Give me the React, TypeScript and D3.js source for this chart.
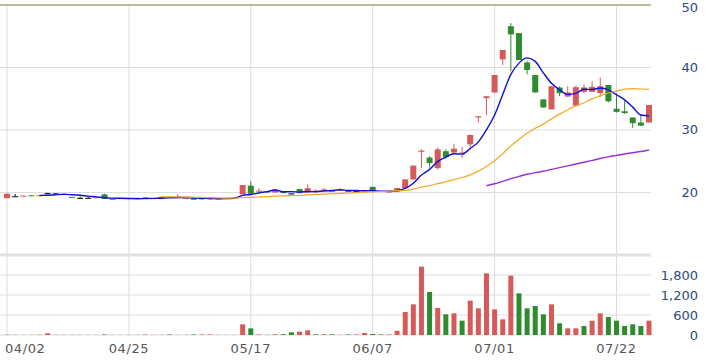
import React from "react";
import * as d3 from "d3";

const opens = [19.1,19.4,19.4,19.55,19.45,19.9,19.85,19.8,19.3,19.15,19.15,19.2,19.7,19.0,19.1,19.1,19.15,19.2,19.0,18.95,19.3,19.1,19.0,19.15,19.1,18.9,18.9,18.95,19.0,19.7,21.1,20.2,20.0,20.0,20.2,19.85,20.55,20.0,20.2,20.25,20.3,20.3,20.25,20.2,20.2,20.9,20.25,20.1,20.1,20.7,22.1,26.5,25.6,23.9,26.6,26.4,26.3,27.7,32.0,35.1,36.0,41.3,46.6,45.5,40.8,38.8,34.9,33.3,36.8,35.35,33.9,36.1,36.1,35.9,37.2,33.4,33.0,32.0,31.2,31.2];
const highs = [19.85,19.75,19.5,19.55,19.55,19.95,19.9,19.85,19.3,19.35,19.35,19.3,19.8,19.0,19.1,19.1,19.15,19.2,19.1,19.3,19.3,19.75,19.1,19.15,19.1,19.1,19.1,19.15,19.2,21.2,21.8,20.7,20.2,20.55,20.2,19.9,20.6,21.3,20.5,20.7,20.35,20.7,20.3,20.25,20.35,20.95,20.3,20.2,20.75,22.15,24.35,26.9,25.8,27.2,26.9,27.8,27.3,29.3,32.2,35.4,38.8,42.8,47.1,45.5,41.0,38.8,34.9,37.0,37.0,37.0,37.1,37.3,37.8,38.4,37.2,35.9,34.6,32.0,32.4,34.0];
const lows = [19.05,19.4,19.4,19.45,19.45,19.85,19.8,19.7,19.2,19.15,19.15,19.15,18.95,18.9,19.0,19.0,19.05,19.1,18.95,18.9,19.2,19.05,19.0,18.85,18.9,18.9,18.9,18.95,19.0,19.7,19.7,20.1,19.95,20.0,19.9,19.8,19.9,20.0,20.2,20.25,20.2,20.3,20.2,20.15,20.15,20.25,20.1,20.05,20.05,20.6,22.0,23.9,24.0,23.7,25.4,26.3,25.5,26.9,31.2,32.4,36.0,40.4,39.4,41.2,38.9,36.0,33.6,33.3,35.4,35.3,33.8,35.9,36.1,35.3,34.4,32.8,32.6,30.3,30.6,31.2];
const closes = [19.8,19.4,19.5,19.45,19.55,19.9,19.85,19.75,19.2,19.15,19.15,19.25,19.0,18.95,19.05,19.0,19.05,19.1,19.1,19.3,19.2,19.3,19.1,18.85,18.9,19.1,19.1,19.15,19.2,21.2,19.8,20.3,20.2,20.45,19.9,19.85,19.9,20.7,20.3,20.5,20.2,20.45,20.2,20.2,20.3,20.25,20.15,20.15,20.7,22.1,24.3,26.7,24.7,26.9,25.7,27.0,26.4,29.2,32.2,35.4,38.8,42.8,45.3,41.2,39.6,36.0,33.6,37.0,35.9,36.0,36.85,36.8,36.9,37.0,34.6,32.9,32.7,31.1,30.7,34.0];
const volumes = [10,5,5,5,8,50,5,5,5,5,5,5,15,5,5,5,5,15,5,5,15,5,5,15,15,15,5,5,5,320,200,15,5,20,25,80,100,140,20,20,20,5,15,15,60,30,15,15,125,690,920,2050,1290,810,620,650,430,1030,800,1850,770,470,1780,1250,800,870,620,920,350,200,200,270,430,650,540,430,270,320,270,430];

const dateLabels = ["04/02", "04/25", "05/17", "06/07", "07/01", "07/22"];
const dateIndex = [0, 15, 30, 45, 60, 75];
const priceTicks = [20, 30, 40, 50];
const volumeTicks = [0, 600, 1200, 1800];
const maPeriods = [5, 20, 60];

const RED = "#d65a5a";
const GREEN = "#2e8b2e";
const MA_COLORS = ["#1010d8", "#f5a623", "#9b30d0"];

function movingAverage(values: number[], n: number) {
  const out: { i: number; v: number }[] = [];
  for (let i = n - 1; i < values.length; i++) {
    const v = d3.mean(values.slice(i - n + 1, i + 1)) as number;
    out.push({ i, v });
  }
  return out;
}

export default function App() {
  const W = 709, H = 361;
  const plotLeft = 0, plotRight = 651;
  const x = d3.scaleLinear().domain([0, closes.length - 1]).range([7, 649]);
  const y = d3.scaleLinear().domain([10, 50]).range([255, 5]);
  const yv = d3.scaleLinear().domain([0, 2400]).range([335, 255]);
  const font = "'DejaVu Sans', Verdana, sans-serif";

  const candleColor = (i: number) =>
    closes[i] > opens[i] ? RED : closes[i] < opens[i] ? GREEN : "#000";
  const volColor = (i: number) => {
    const prev = i === 0 ? opens[0] : closes[i - 1];
    return closes[i] >= prev ? RED : GREEN;
  };

  const line = d3
    .line<{ i: number; v: number }>()
    .x((d) => x(d.i))
    .y((d) => y(d.v))
    .curve(d3.curveMonotoneX);

  const cw = 6;
  const vw = 5;

  return (
    <svg
      width={W}
      height={H}
      style={{ position: "absolute", left: 0, top: 0, background: "#fff" }}
    >
      {dateIndex.map((di) => (
        <line key={"vg" + di} x1={x(di)} x2={x(di)} y1={5} y2={336} stroke="#dddddd" strokeWidth={1} />
      ))}
      {priceTicks.map((t) =>
        t === 50 ? null : (
          <line key={"pg" + t} x1={plotLeft} x2={plotRight} y1={y(t)} y2={y(t)} stroke="#dddddd" strokeWidth={1} />
        )
      )}
      <line x1={plotLeft} x2={plotRight} y1={y(50)} y2={y(50)} stroke="#aaa27e" strokeWidth={1.5} />
      <line x1={plotLeft} x2={plotRight} y1={255} y2={255} stroke="#e2e2e2" strokeWidth={3} />
      {volumeTicks.map((t) => (
        <line key={"vgr" + t} x1={plotLeft} x2={plotRight} y1={yv(t)} y2={yv(t)} stroke="#dddddd" strokeWidth={1} />
      ))}

      {volumes.map((v, i) => (
        <rect
          key={"v" + i}
          x={x(i) - vw / 2}
          y={yv(v)}
          width={vw}
          height={Math.max(0, yv(0) - yv(v))}
          fill={volColor(i)}
        />
      ))}

      {closes.map((c, i) => {
        const col = candleColor(i);
        const top = y(Math.max(opens[i], c));
        const bot = y(Math.min(opens[i], c));
        return (
          <g key={"c" + i}>
            <line x1={x(i)} x2={x(i)} y1={y(highs[i])} y2={y(lows[i])} stroke={col} strokeWidth={1} />
            <rect x={x(i) - cw / 2} y={top} width={cw} height={Math.max(1, bot - top)} fill={col} />
          </g>
        );
      })}

      {maPeriods.map((p, k) => (
        <path
          key={"ma" + p}
          d={line(movingAverage(closes, p)) || ""}
          fill="none"
          stroke={MA_COLORS[k]}
          strokeWidth={k === 1 ? 1.2 : 1.4}
        />
      ))}

      {priceTicks.map((t) => (
        <text key={"pl" + t} x={698} y={Math.max(y(t) + 4, 11.5)} textAnchor="end" fontFamily={font} fontSize={13} fill="#2c4a7c">
          {t}
        </text>
      ))}
      {volumeTicks.map((t) => (
        <text key={"vl" + t} x={698} y={yv(t) + 4.5} textAnchor="end" fontFamily={font} fontSize={13} fill="#2c4a7c">
          {d3.format(",")(t)}
        </text>
      ))}
      {dateIndex.map((di, k) => {
        const cx = x(di);
        const clamp = cx - 21 < 4;
        return (
          <text
            key={"dl" + di}
            x={clamp ? 5 : cx}
            y={352.5}
            textAnchor={clamp ? "start" : "middle"}
            fontFamily={font}
            fontSize={13}
            letterSpacing={0.6}
            fill="#555"
          >
            {dateLabels[k]}
          </text>
        );
      })}
    </svg>
  );
}
